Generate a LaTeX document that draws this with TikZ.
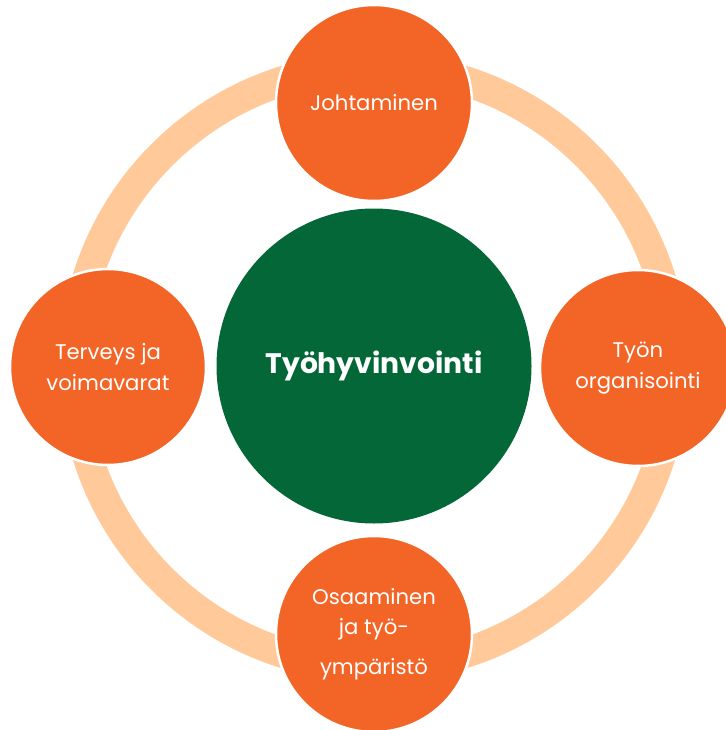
\documentclass[tikz,border=0pt]{standalone}
\usepackage{fontspec}
\setmainfont{Poppins}
\definecolor{ringc}{HTML}{FFC99A}
\definecolor{orangec}{HTML}{F26527}
\definecolor{greenc}{HTML}{036737}
\begin{document}
\begin{tikzpicture}[x=1pt,y=-1pt,
  topic/.style={circle,fill=orangec,draw=white,line width=2.5pt,minimum size=196pt,inner sep=0pt,
    text=white,align=center,font=\fontsize{21.2}{30.5}\selectfont},
  core/.style={circle,fill=greenc,minimum size=315pt,inner sep=0pt,text=white,
    font=\fontsize{28.2}{30}\selectfont\bfseries}]
\useasboundingbox (0,0) rectangle (725,730);
\coordinate (c) at (374,367);
\draw[ringc,line width=30pt] (c) circle[radius=300pt];
\node[core] (w) at (374,366) {Työhyvinvointi};
\node[topic] (t) at (374,103) {Johtaminen};
\node[topic] (l) at (108,367) {Terveys ja\\voimavarat};
\node[topic] (r) at (638,368) {Työn\\organisointi};
\node[topic] (b) at (374,634) {Osaaminen\\ja työ-\\[9pt]ympäristö};
\end{tikzpicture}
\end{document}
